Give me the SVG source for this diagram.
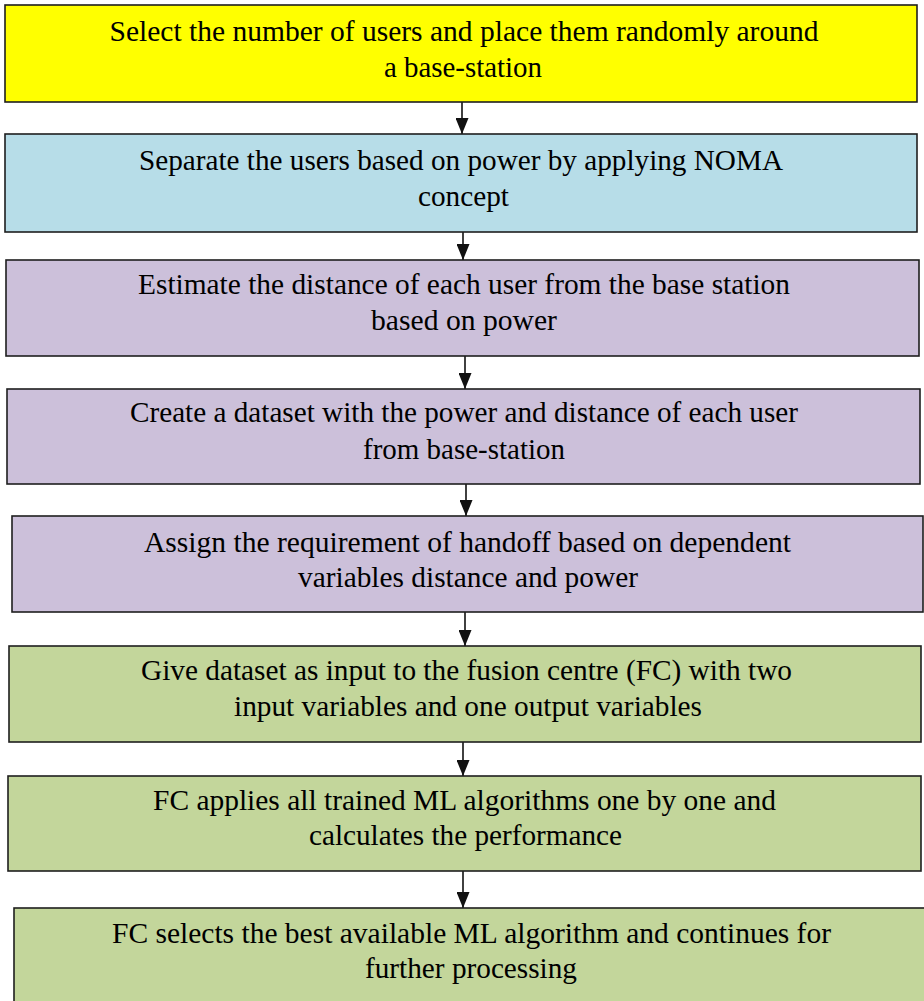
<svg xmlns="http://www.w3.org/2000/svg" width="924" height="1001" viewBox="0 0 924 1001">
<style>
.box{stroke:#1e1e1e;stroke-width:1.6}
.y{fill:#ffff00}.b{fill:#b7dde8}.p{fill:#ccc0da}.g{fill:#c3d69b}
text{font-size:29px;fill:#000;text-anchor:middle}
.ln{stroke:#111;stroke-width:1.6;fill:none}
</style>
<defs>
<marker id="ah" markerWidth="16" markerHeight="13" refX="16" refY="6.5" orient="auto" markerUnits="userSpaceOnUse">
<path d="M0,0 L16,6.5 L0,13 Z" fill="#111"/>
</marker>
</defs>
<rect width="924" height="1001" fill="#fff"/>
<g id="connectors">
<line class="ln" x1="462" y1="102" x2="462" y2="134" marker-end="url(#ah)"/>
<line class="ln" x1="463" y1="232" x2="463" y2="260" marker-end="url(#ah)"/>
<line class="ln" x1="465" y1="356" x2="465" y2="389" marker-end="url(#ah)"/>
<line class="ln" x1="466" y1="484" x2="466" y2="516" marker-end="url(#ah)"/>
<line class="ln" x1="465" y1="612" x2="465" y2="646" marker-end="url(#ah)"/>
<line class="ln" x1="463" y1="742" x2="463" y2="776" marker-end="url(#ah)"/>
<line class="ln" x1="463" y1="871" x2="463" y2="908" marker-end="url(#ah)"/>
</g>
<g font-family="Liberation Serif, Times New Roman, serif">
<g id="n1">
<rect class="box y" x="5" y="5" width="912" height="97"/>
<text x="464" y="41" textLength="709" lengthAdjust="spacingAndGlyphs">Select the number of users and place them randomly around</text>
<text x="463" y="77" textLength="158" lengthAdjust="spacingAndGlyphs">a base-station</text>
</g>
<g id="n2">
<rect class="box b" x="5" y="134" width="912" height="98"/>
<text x="461" y="170" textLength="644" lengthAdjust="spacingAndGlyphs">Separate the users based on power by applying NOMA</text>
<text x="463.5" y="206" textLength="91" lengthAdjust="spacingAndGlyphs">concept</text>
</g>
<g id="n3">
<rect class="box p" x="6" y="260" width="913" height="96"/>
<text x="464" y="294" textLength="652" lengthAdjust="spacingAndGlyphs">Estimate the distance of each user from the base station</text>
<text x="464" y="330" textLength="186" lengthAdjust="spacingAndGlyphs">based on power</text>
</g>
<g id="n4">
<rect class="box p" x="7" y="389" width="913" height="95"/>
<text x="464" y="422" textLength="668" lengthAdjust="spacingAndGlyphs">Create a dataset with the power and distance of each user</text>
<text x="464" y="459" textLength="202" lengthAdjust="spacingAndGlyphs">from base-station</text>
</g>
<g id="n5">
<rect class="box p" x="12" y="516" width="911" height="96"/>
<text x="467.5" y="552" textLength="647" lengthAdjust="spacingAndGlyphs">Assign the requirement of handoff based on dependent</text>
<text x="468" y="587" textLength="340" lengthAdjust="spacingAndGlyphs">variables distance and power</text>
</g>
<g id="n6">
<rect class="box g" x="9" y="646" width="912" height="96"/>
<text x="466.5" y="680" textLength="651" lengthAdjust="spacingAndGlyphs">Give dataset as input to the fusion centre (FC) with two</text>
<text x="468" y="716" textLength="468" lengthAdjust="spacingAndGlyphs">input variables and one output variables</text>
</g>
<g id="n7">
<rect class="box g" x="8" y="776" width="913" height="95"/>
<text x="464.5" y="810" textLength="623" lengthAdjust="spacingAndGlyphs">FC applies all trained ML algorithms one by one and</text>
<text x="465.5" y="845" textLength="313" lengthAdjust="spacingAndGlyphs">calculates the performance</text>
</g>
<g id="n8">
<rect class="box g" x="14" y="908" width="912" height="96"/>
<text x="471.5" y="943" textLength="719" lengthAdjust="spacingAndGlyphs">FC selects the best available ML algorithm and continues for</text>
<text x="471" y="978" textLength="212" lengthAdjust="spacingAndGlyphs">further processing</text>
</g>
</g>
</svg>
